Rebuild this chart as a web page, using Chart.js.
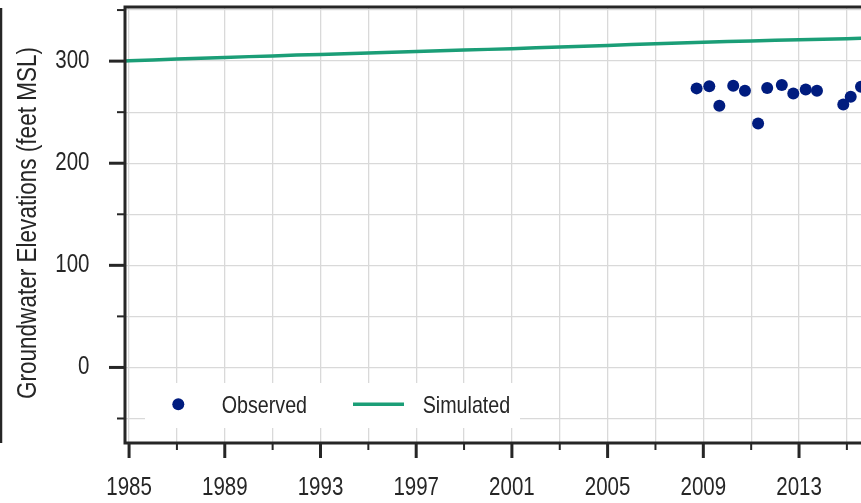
<!DOCTYPE html>
<html>
<head>
<meta charset="utf-8">
<script src="https://cdn.jsdelivr.net/npm/chart.js@4/dist/chart.umd.min.js"></script>
<style>
  html, body { margin: 0; padding: 0; background: #ffffff; overflow: hidden; }
  #wrap { position: relative; width: 861px; height: 503px; }
</style>
</head>
<body>
<div id="wrap"><canvas id="c" width="861" height="503"></canvas></div>
<script>
// ---- data ----
const simYears = [1984.5, 1985, 1986, 1987, 1988, 1989, 1990, 1991, 1992, 1993, 1994, 1995, 1996, 1997, 1998, 1999, 2000, 2001, 2002, 2003, 2004, 2005, 2006, 2007, 2008, 2009, 2010, 2011, 2012, 2013, 2014, 2015, 2016];
const simValues = [299.9, 300.3, 301.1, 302.0, 302.8, 303.6, 304.4, 305.1, 305.9, 306.6, 307.3, 308.0, 308.7, 309.4, 310.1, 310.8, 311.5, 312.2, 313.0, 313.8, 314.6, 315.4, 316.2, 317.0, 317.8, 318.5, 319.2, 319.8, 320.4, 321.0, 321.5, 322.0, 322.5];

const obsYears = [2008.72, 2009.25, 2009.67, 2010.25, 2010.74, 2011.29, 2011.67, 2012.28, 2012.76, 2013.28, 2013.75, 2014.85, 2015.16, 2015.59];
const obsValues = [273.3, 275.5, 256.2, 275.8, 270.9, 239.0, 273.6, 276.5, 268.4, 272.3, 270.9, 257.6, 265.0, 274.8];

const xTickYears = [1985, 1987, 1989, 1991, 1993, 1995, 1997, 1999, 2001, 2003, 2005, 2007, 2009, 2011, 2013, 2015];
const xTickLabels = ['1985', '', '1989', '', '1993', '', '1997', '', '2001', '', '2005', '', '2009', '', '2013', ''];
const yTickValues = [-50, 0, 50, 100, 150, 200, 250, 300, 350];
const yTickLabels = ['', '0', '', '100', '', '200', '', '300', ''];

const seriesNames = ['Observed', 'Simulated'];
const yTitle = 'Groundwater Elevations (feet MSL)';

// ---- style ----
const FONT = "'Liberation Sans', Arial, sans-serif";
const NARROW = 0.82;            // horizontal squeeze to mimic a narrow face
const INK = '#262626';
const OBS_COLOR = '#001c7f';
const SIM_COLOR = '#1b9e77';
const GRID = '#d9d9d9';

// draw the library's own computed tick label items, squeezed horizontally
function narrowDrawLabels(chartArea) {
  const ctx = this.ctx;
  const items = this.getLabelItems(chartArea);
  for (const item of items) {
    const o = item.options;
    if (!item.label) continue;
    ctx.save();
    ctx.translate(o.translation[0], o.translation[1]);
    if (o.rotation) ctx.rotate(o.rotation);
    ctx.scale(NARROW, 1);
    ctx.font = item.font.string;
    ctx.fillStyle = o.color;
    ctx.textAlign = o.textAlign;
    ctx.textBaseline = o.textBaseline;
    ctx.fillText(item.label, 0, item.textOffset);
    ctx.restore();
  }
}

function narrowText(ctx, text, x, y, size) {
  ctx.save();
  ctx.translate(x, y);
  ctx.scale(NARROW, 1);
  ctx.font = size + "px " + FONT;
  ctx.textBaseline = 'alphabetic';
  ctx.textAlign = 'left';
  ctx.fillText(text, 0, 0);
  ctx.restore();
}

const decor = {
  id: 'decor',
  beforeDraw(chart) {
    const ctx = chart.ctx;
    ctx.save();
    ctx.fillStyle = '#ffffff';
    ctx.fillRect(0, 0, chart.width, chart.height);
    ctx.restore();
  },
  afterDatasetsDraw(chart) {
    const ctx = chart.ctx;
    const a = chart.chartArea;
    const xs = chart.scales.x, ys = chart.scales.y;
    ctx.save();

    // legend box (covers grid)
    ctx.fillStyle = '#ffffff';
    ctx.fillRect(a.left + 20, a.bottom - 60, 375, 45);
    const ly = a.bottom - 38.7;
    ctx.fillStyle = OBS_COLOR;
    ctx.beginPath();
    ctx.arc(a.left + 53.3, ly, 6, 0, Math.PI * 2);
    ctx.fill();
    ctx.strokeStyle = SIM_COLOR;
    ctx.lineWidth = 3.5;
    ctx.beginPath();
    ctx.moveTo(a.left + 228, ly);
    ctx.lineTo(a.left + 279, ly);
    ctx.stroke();
    ctx.fillStyle = INK;
    narrowText(ctx, seriesNames[0], a.left + 96.7, ly + 8.2, 24);
    narrowText(ctx, seriesNames[1], a.left + 297.7, ly + 8.2, 24);

    // x ticks
    ctx.strokeStyle = INK;
    xTickYears.forEach((v, i) => {
      const px = xs.getPixelForValue(v);
      const major = xTickLabels[i] !== '';
      ctx.lineWidth = major ? 3 : 2;
      ctx.beginPath();
      ctx.moveTo(px, a.bottom);
      ctx.lineTo(px, a.bottom + (major ? 15 : 7));
      ctx.stroke();
    });
    // y ticks
    yTickValues.forEach((v, i) => {
      const py = ys.getPixelForValue(v);
      const major = yTickLabels[i] !== '';
      ctx.lineWidth = major ? 3 : 2;
      ctx.beginPath();
      ctx.moveTo(a.left, py);
      ctx.lineTo(a.left - (major ? 16 : 8), py);
      ctx.stroke();
    });

    // spines
    ctx.lineWidth = 3;
    ctx.strokeStyle = INK;
    ctx.beginPath();
    ctx.moveTo(chart.width + 5, a.top);
    ctx.lineTo(a.left, a.top);
    ctx.lineTo(a.left, a.bottom);
    ctx.lineTo(chart.width + 5, a.bottom);
    ctx.stroke();

    // left frame line
    ctx.lineWidth = 2.5;
    ctx.beginPath();
    ctx.moveTo(1, a.top + 1);
    ctx.lineTo(1, a.bottom);
    ctx.stroke();

    // y title
    ctx.fillStyle = INK;
    ctx.translate(36, (a.top + a.bottom) / 2 - 2);
    ctx.rotate(-Math.PI / 2);
    ctx.scale(NARROW, 1);
    ctx.font = "27.5px " + FONT;
    ctx.textAlign = 'center';
    ctx.textBaseline = 'alphabetic';
    ctx.fillText(yTitle, 0, 0);
    ctx.restore();
  }
};

new Chart(document.getElementById('c'), {
  data: {
    datasets: [
      {
        type: 'scatter',
        label: seriesNames[0],
        data: obsYears.map((x, i) => ({ x: x, y: obsValues[i] })),
        backgroundColor: OBS_COLOR,
        borderWidth: 0,
        pointRadius: 6,
        pointHoverRadius: 6,
        order: 1
      },
      {
        type: 'line',
        label: seriesNames[1],
        data: simYears.map((x, i) => ({ x: x, y: simValues[i] })),
        borderColor: SIM_COLOR,
        borderWidth: 3.5,
        pointRadius: 0,
        tension: 0,
        fill: false,
        order: 2
      }
    ]
  },
  options: {
    responsive: false,
    animation: false,
    events: [],
    layout: { autoPadding: false, padding: { left: 0, right: 0, top: 7, bottom: 0 } },
    plugins: { legend: { display: false }, tooltip: { enabled: false } },
    scales: {
      x: {
        type: 'linear',
        min: 1984.83,
        max: 2015.59,
        afterBuildTicks(scale) { scale.ticks = xTickYears.map(v => ({ value: v })); },
        afterFit(scale) {
          scale.height = 60; scale.paddingLeft = 0; scale.paddingRight = 0;
          scale.drawLabels = narrowDrawLabels;
        },
        ticks: {
          autoSkip: false, maxRotation: 0, minRotation: 0, padding: 30,
          color: INK, font: { family: FONT, size: 25 },
          callback(v) { const i = xTickYears.indexOf(v); return i >= 0 ? xTickLabels[i] : ''; }
        },
        grid: { color: GRID, lineWidth: 1.3, drawTicks: false },
        border: { display: false }
      },
      y: {
        type: 'linear',
        min: -74,
        max: 353,
        afterBuildTicks(scale) { scale.ticks = yTickValues.map(v => ({ value: v })); },
        afterFit(scale) {
          scale.width = 125; scale.paddingTop = 0; scale.paddingBottom = 0;
          scale.drawLabels = narrowDrawLabels;
        },
        ticks: {
          autoSkip: false, padding: 35.5,
          color: INK, font: { family: FONT, size: 25 },
          callback(v) { const i = yTickValues.indexOf(v); return i >= 0 ? yTickLabels[i] : ''; }
        },
        grid: { color: GRID, lineWidth: 1.3, drawTicks: false },
        border: { display: false }
      }
    }
  },
  plugins: [decor]
});
</script>
</body>
</html>
